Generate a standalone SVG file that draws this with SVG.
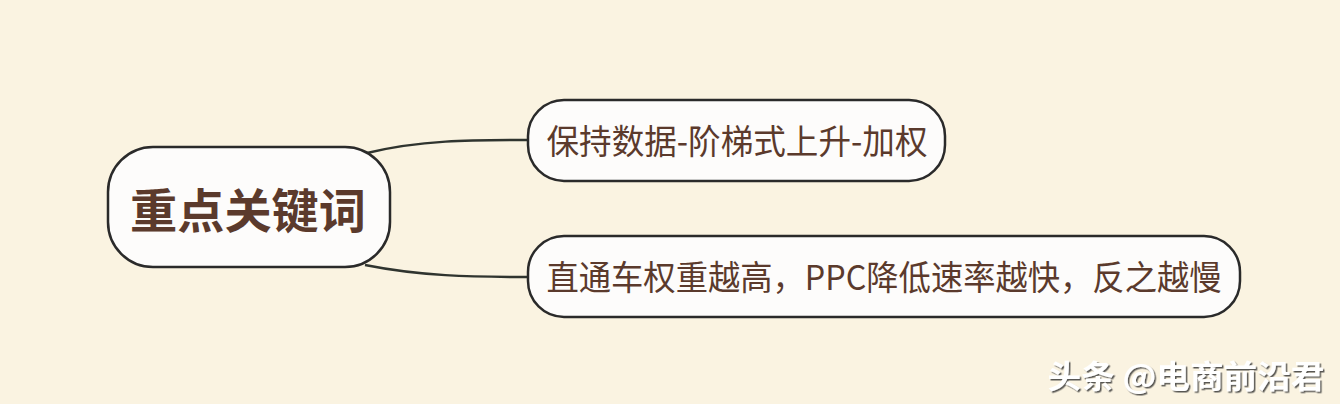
<svg xmlns="http://www.w3.org/2000/svg" width="1340" height="404" viewBox="0 0 1340 404">
<style>
.node{fill:#fdfcfb;stroke:#2a2a2a;stroke-width:2.5}
.t{font-family:"Noto Sans CJK SC","Noto Sans",sans-serif;fill:#5b3a2c;text-anchor:middle}
.c{fill:none;stroke:#2f342f;stroke-width:2.5}
</style>
<defs>
<filter id="sh" x="-10%" y="-30%" width="120%" height="160%"><feDropShadow dx="1.5" dy="1.5" stdDeviation="0.6" flood-color="#333" flood-opacity="0.8"/></filter>
</defs>
<rect width="1340" height="404" fill="#faf3e1"/>
<g id="connectors">
<path class="c" d="M367 153 C420 140,470 140,528 140"/>
<path class="c" d="M365 265 C420 276,470 277,528 277"/>
</g>
<g id="center">
<rect class="node" x="108" y="147" width="282" height="120" rx="45"/>
<text class="t" x="248" y="228" font-size="47" font-weight="bold" textLength="236" lengthAdjust="spacingAndGlyphs">重点关键词</text>
</g>
<g id="n1">
<rect class="node" x="528" y="100" width="417" height="81" rx="36"/>
<text class="t" x="737" y="154" font-size="34" textLength="381" lengthAdjust="spacingAndGlyphs">保持数据-阶梯式上升-加权</text>
</g>
<g id="n2">
<rect class="node" x="528" y="236" width="712" height="81" rx="36"/>
<text class="t" x="884" y="290" font-size="34" textLength="675" lengthAdjust="spacingAndGlyphs">直通车权重越高，PPC降低速率越快，反之越慢</text>
</g>
<g id="watermark">
<text x="1186" y="388" font-size="32" font-weight="bold" text-anchor="middle" fill="#ffffff" filter="url(#sh)" font-family="Noto Sans CJK SC,sans-serif" textLength="277" lengthAdjust="spacingAndGlyphs">头条 @电商前沿君</text>
</g>
</svg>
